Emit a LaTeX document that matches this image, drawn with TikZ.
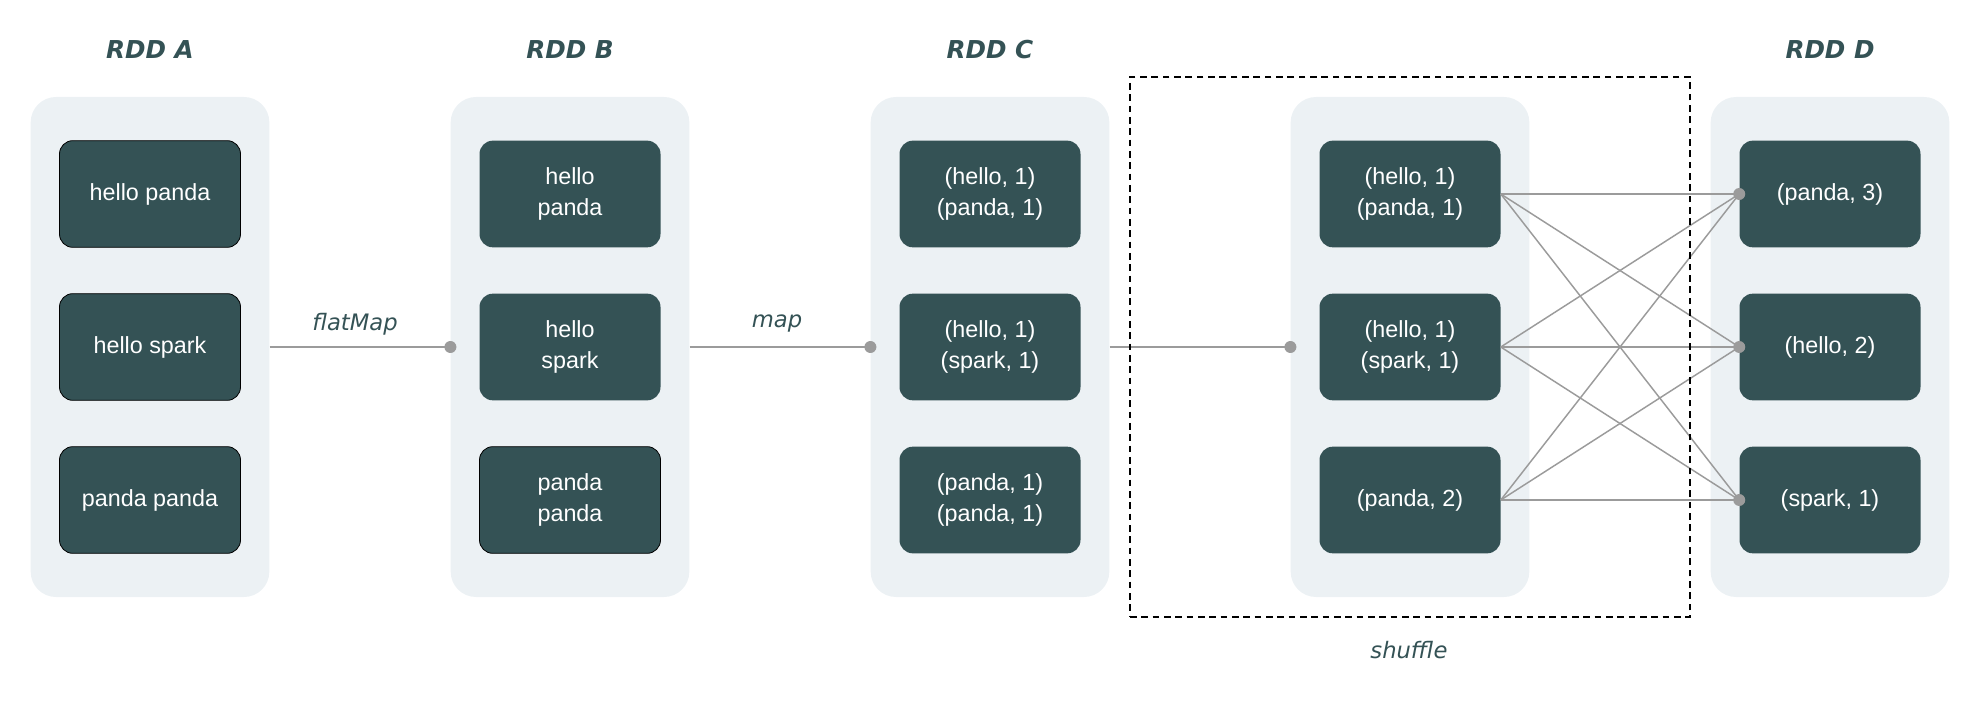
\documentclass[tikz,border=0pt]{standalone}
\usepackage{fontspec}
\setmainfont{Liberation Sans}
\newfontfamily\labfont{DejaVu Sans}
\definecolor{boxteal}{RGB}{52,82,85}
\definecolor{contfill}{RGB}{236,241,244}
\definecolor{linegray}{RGB}{155,155,155}
\begin{document}
\begin{tikzpicture}[x=0.75pt,y=-0.75pt,
  cont/.style={fill=contfill, rounded corners=19pt, minimum width=179pt, minimum height=375pt, inner sep=0pt},
  item/.style={fill=boxteal, rounded corners=10pt, minimum width=135.75pt, minimum height=80pt, text=white,
    font=\fontsize{17.5}{23}\selectfont, align=center, inner sep=0pt},
  outlined/.style={draw=black, line width=0.6pt},
  title/.style={text=boxteal, font=\labfont\bfseries\itshape\fontsize{18.5}{22}\selectfont},
  lab/.style={text=boxteal, font=\labfont\itshape\fontsize{17}{20}\selectfont},
  conn/.style={draw=linegray, line width=1.3pt},
  dashbox/.style={draw=black, line width=1.5pt, dash pattern=on 5pt off 3.5pt, minimum width=420pt, minimum height=405pt, inner sep=0pt}]
\useasboundingbox (0,0) rectangle (1982,702);
% containers
\node[cont] (cA) at (150,347) {};
\node[cont] (cB) at (570,347) {};
\node[cont] (cC) at (990,347) {};
\node[cont] (cS) at (1410,347) {};
\node[cont] (cD) at (1830,347) {};
% titles
\node[title] (tA) at (150,50) {RDD A};
\node[title] (tB) at (570,50) {RDD B};
\node[title] (tC) at (990,50) {RDD C};
\node[title] (tD) at (1830,50) {RDD D};
% RDD A
\node[item,outlined] (a1) at (150,194) {hello panda};
\node[item,outlined] (a2) at (150,347) {hello spark};
\node[item,outlined] (a3) at (150,500) {panda panda};
% RDD B
\node[item] (b1) at (570,194) {hello\\panda};
\node[item] (b2) at (570,347) {hello\\spark};
\node[item,outlined] (b3) at (570,500) {panda\\panda};
% RDD C
\node[item] (c1) at (990,194) {(hello, 1)\\(panda, 1)};
\node[item] (c2) at (990,347) {(hello, 1)\\(spark, 1)};
\node[item] (c3) at (990,500) {(panda, 1)\\(panda, 1)};
% shuffled
\node[item] (s1) at (1410,194) {(hello, 1)\\(panda, 1)};
\node[item] (s2) at (1410,347) {(hello, 1)\\(spark, 1)};
\node[item] (s3) at (1410,500) {(panda, 2)};
% RDD D
\node[item] (d1) at (1830,194) {(panda, 3)};
\node[item] (d2) at (1830,347) {(hello, 2)};
\node[item] (d3) at (1830,500) {(spark, 1)};
% labels
\node[lab] (lfm) at (355,324) {flatMap};
\node[lab] (lmap) at (777,324) {map};
% connectors
\draw[conn] (cA.east) -- (cB.west);
\draw[conn] (cB.east) -- (cC.west);
\draw[conn] (cC.east) -- (cS.west);
\fill[linegray] (cB.west) circle (4.5pt);
\fill[linegray] (cC.west) circle (4.5pt);
\fill[linegray] (cS.west) circle (4.5pt);
\foreach \i in {1,2,3}{
  \foreach \j in {1,2,3}{
    \draw[conn, line width=1.1pt] (s\i.east) -- (d\j.west);
  }
}
\foreach \j in {1,2,3}{\fill[linegray] (d\j.west) circle (4.5pt);}
% shuffle box
\node[dashbox] (shuf) at (1410,347) {};
\node[lab] (lshuf) at (1409,650) {shuffle};
\end{tikzpicture}
\end{document}
